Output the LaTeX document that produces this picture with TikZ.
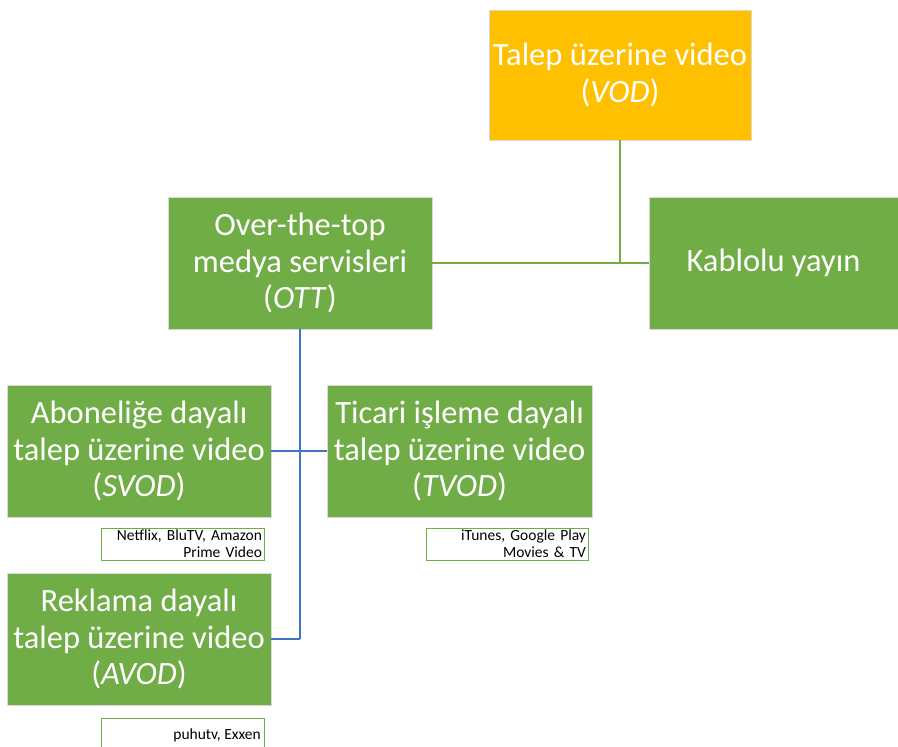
\documentclass[tikz,border=0pt]{standalone}
\usepackage{fontspec}
\setmainfont{Carlito}
\definecolor{ogreen}{HTML}{70AD47}
\definecolor{oorange}{HTML}{FFC000}
\definecolor{oblue}{HTML}{4472C4}
\begin{document}
\begin{tikzpicture}[x=1pt,y=-1pt,
  bigbox/.style={draw=white!85!black, line width=0.8pt, fill=ogreen, text=white, align=center,
    font=\fontsize{32.5}{36.5}\selectfont, inner sep=0pt, minimum width=264pt, minimum height=132pt},
  lbl/.style={draw=ogreen, line width=1pt, fill=white, align=right, text=black,
    font=\fontsize{15.5}{17}\selectfont, inner sep=0pt, minimum width=163pt, minimum height=32pt, text width=159pt},
  gline/.style={draw=ogreen, line width=1.5pt},
  bline/.style={draw=oblue, line width=1.5pt}]
\useasboundingbox (0,0) rectangle (898,747);
\node[bigbox, fill=oorange, minimum width=262pt, minimum height=130pt] (vod) at (620,75) {Talep üzerine video\\(\textit{VOD})};
\node[bigbox] (ott) at (300,263) {Over-the-top\\medya servisleri\\(\textit{OTT})};
\node[bigbox, minimum width=249pt] (kab) at (773.5,263) {Kablolu yayın};
\node[bigbox] (svod) at (139,451) {Aboneliğe dayalı\\talep üzerine video\\(\textit{SVOD})};
\node[bigbox, minimum width=265pt] (tvod) at (459.5,451) {Ticari işleme dayalı\\talep üzerine video\\(\textit{TVOD})};
\node[bigbox] (avod) at (139,639) {Reklama dayalı\\talep üzerine video\\(\textit{AVOD})};
\node[lbl] (l1) at (182.5,544) {Netflix, BluTV, Amazon\\Prime Video};
\node[lbl, minimum width=162pt, text width=158pt] (l2) at (507,544) {iTunes, Google Play\\Movies \& TV};
\node[lbl, anchor=north, minimum height=40pt] (l3) at (182.5,718) {};
\node[anchor=north east, font=\fontsize{15.5}{17}\selectfont, inner sep=0pt] (l3t) at (261,729) {puhutv, Exxen};
\coordinate (j1) at (vod.south |- kab.west);
\draw[gline] (ott.east) -- (kab.west);
\draw[gline] (vod.south) -- (j1);
\coordinate (j2) at (ott.south |- avod.east);
\draw[bline] (ott.south) -- (j2);
\draw[bline] (svod.east) -- (tvod.west);
\draw[bline] (avod.east) -- (j2);
\end{tikzpicture}
\end{document}
